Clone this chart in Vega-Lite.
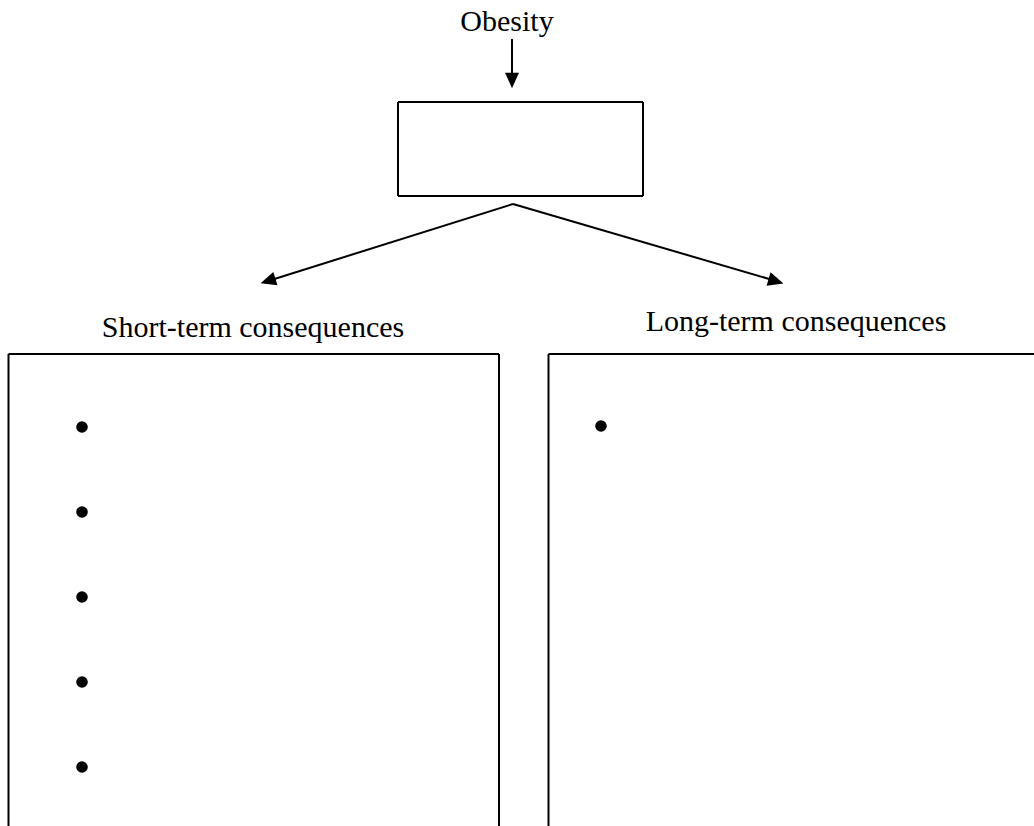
{
  "$schema": "https://vega.github.io/schema/vega-lite/v6.json",
  "width": 1034,
  "height": 826,
  "autosize": {"type": "none"},
  "padding": 0,
  "background": "white",
  "config": {"view": {"stroke": null}},
  "datasets": {
    "segments": [
      {"part": "arrow to box", "x": 512, "y": 39, "x2": 512, "y2": 80},
      {"part": "box top", "x": 398, "y": 102, "x2": 643, "y2": 102},
      {"part": "box bottom", "x": 398, "y": 196, "x2": 643, "y2": 196},
      {"part": "box left", "x": 398, "y": 102, "x2": 398, "y2": 196},
      {"part": "box right", "x": 643, "y": 102, "x2": 643, "y2": 196},
      {"part": "to short-term", "x": 513, "y": 204, "x2": 268, "y2": 281},
      {"part": "to long-term", "x": 513, "y": 204, "x2": 776, "y2": 281},
      {"part": "short box top", "x": 8.5, "y": 354, "x2": 499, "y2": 354},
      {"part": "short box left", "x": 8.5, "y": 354, "x2": 8.5, "y2": 826},
      {"part": "short box right", "x": 499, "y": 354, "x2": 499, "y2": 826},
      {"part": "long box top", "x": 548.5, "y": 354, "x2": 1034, "y2": 354},
      {"part": "long box left", "x": 548.5, "y": 354, "x2": 548.5, "y2": 826}
    ],
    "heads": [
      {"head": "down", "x": 512, "y": 80.5, "angle": 180},
      {"head": "short", "x": 268, "y": 281, "angle": 252.5},
      {"head": "long", "x": 776, "y": 281.2, "angle": 106.35}
    ],
    "labels": [
      {"label": "Obesity", "x": 507, "y": 31},
      {"label": "Short-term consequences", "x": 253, "y": 337},
      {"label": "Long-term consequences", "x": 796, "y": 331}
    ],
    "bullets": [
      {"box": "short", "x": 82, "y": 427},
      {"box": "short", "x": 82, "y": 512},
      {"box": "short", "x": 82, "y": 597},
      {"box": "short", "x": 82, "y": 682},
      {"box": "short", "x": 82, "y": 767},
      {"box": "long", "x": 601, "y": 426}
    ]
  },
  "layer": [
    {
      "data": {"name": "segments"},
      "mark": {"type": "rule", "color": "black", "strokeWidth": 2},
      "encoding": {
        "x": {"field": "x", "type": "quantitative", "scale": {"domain": [0, 1034], "nice": false, "zero": false}, "axis": null},
        "y": {"field": "y", "type": "quantitative", "scale": {"domain": [0, 826], "reverse": true, "nice": false, "zero": false}, "axis": null},
        "x2": {"field": "x2"},
        "y2": {"field": "y2"}
      }
    },
    {
      "data": {"name": "heads"},
      "mark": {"type": "point", "shape": "M0,-1L0.9,1L-0.9,1Z", "filled": true, "color": "black", "opacity": 1, "size": 240},
      "encoding": {
        "x": {"field": "x", "type": "quantitative", "scale": {"domain": [0, 1034], "nice": false, "zero": false}, "axis": null},
        "y": {"field": "y", "type": "quantitative", "scale": {"domain": [0, 826], "reverse": true, "nice": false, "zero": false}, "axis": null},
        "angle": {"field": "angle", "type": "quantitative", "scale": null}
      }
    },
    {
      "data": {"name": "bullets"},
      "mark": {"type": "point", "shape": "circle", "filled": true, "color": "black", "opacity": 1, "size": 135},
      "encoding": {
        "x": {"field": "x", "type": "quantitative", "scale": {"domain": [0, 1034], "nice": false, "zero": false}, "axis": null},
        "y": {"field": "y", "type": "quantitative", "scale": {"domain": [0, 826], "reverse": true, "nice": false, "zero": false}, "axis": null}
      }
    },
    {
      "data": {"name": "labels"},
      "mark": {"type": "text", "font": "Liberation Serif", "fontSize": 30, "align": "center", "baseline": "alphabetic", "color": "black"},
      "encoding": {
        "x": {"field": "x", "type": "quantitative", "scale": {"domain": [0, 1034], "nice": false, "zero": false}, "axis": null},
        "y": {"field": "y", "type": "quantitative", "scale": {"domain": [0, 826], "reverse": true, "nice": false, "zero": false}, "axis": null},
        "text": {"field": "label", "type": "nominal"}
      }
    }
  ]
}
